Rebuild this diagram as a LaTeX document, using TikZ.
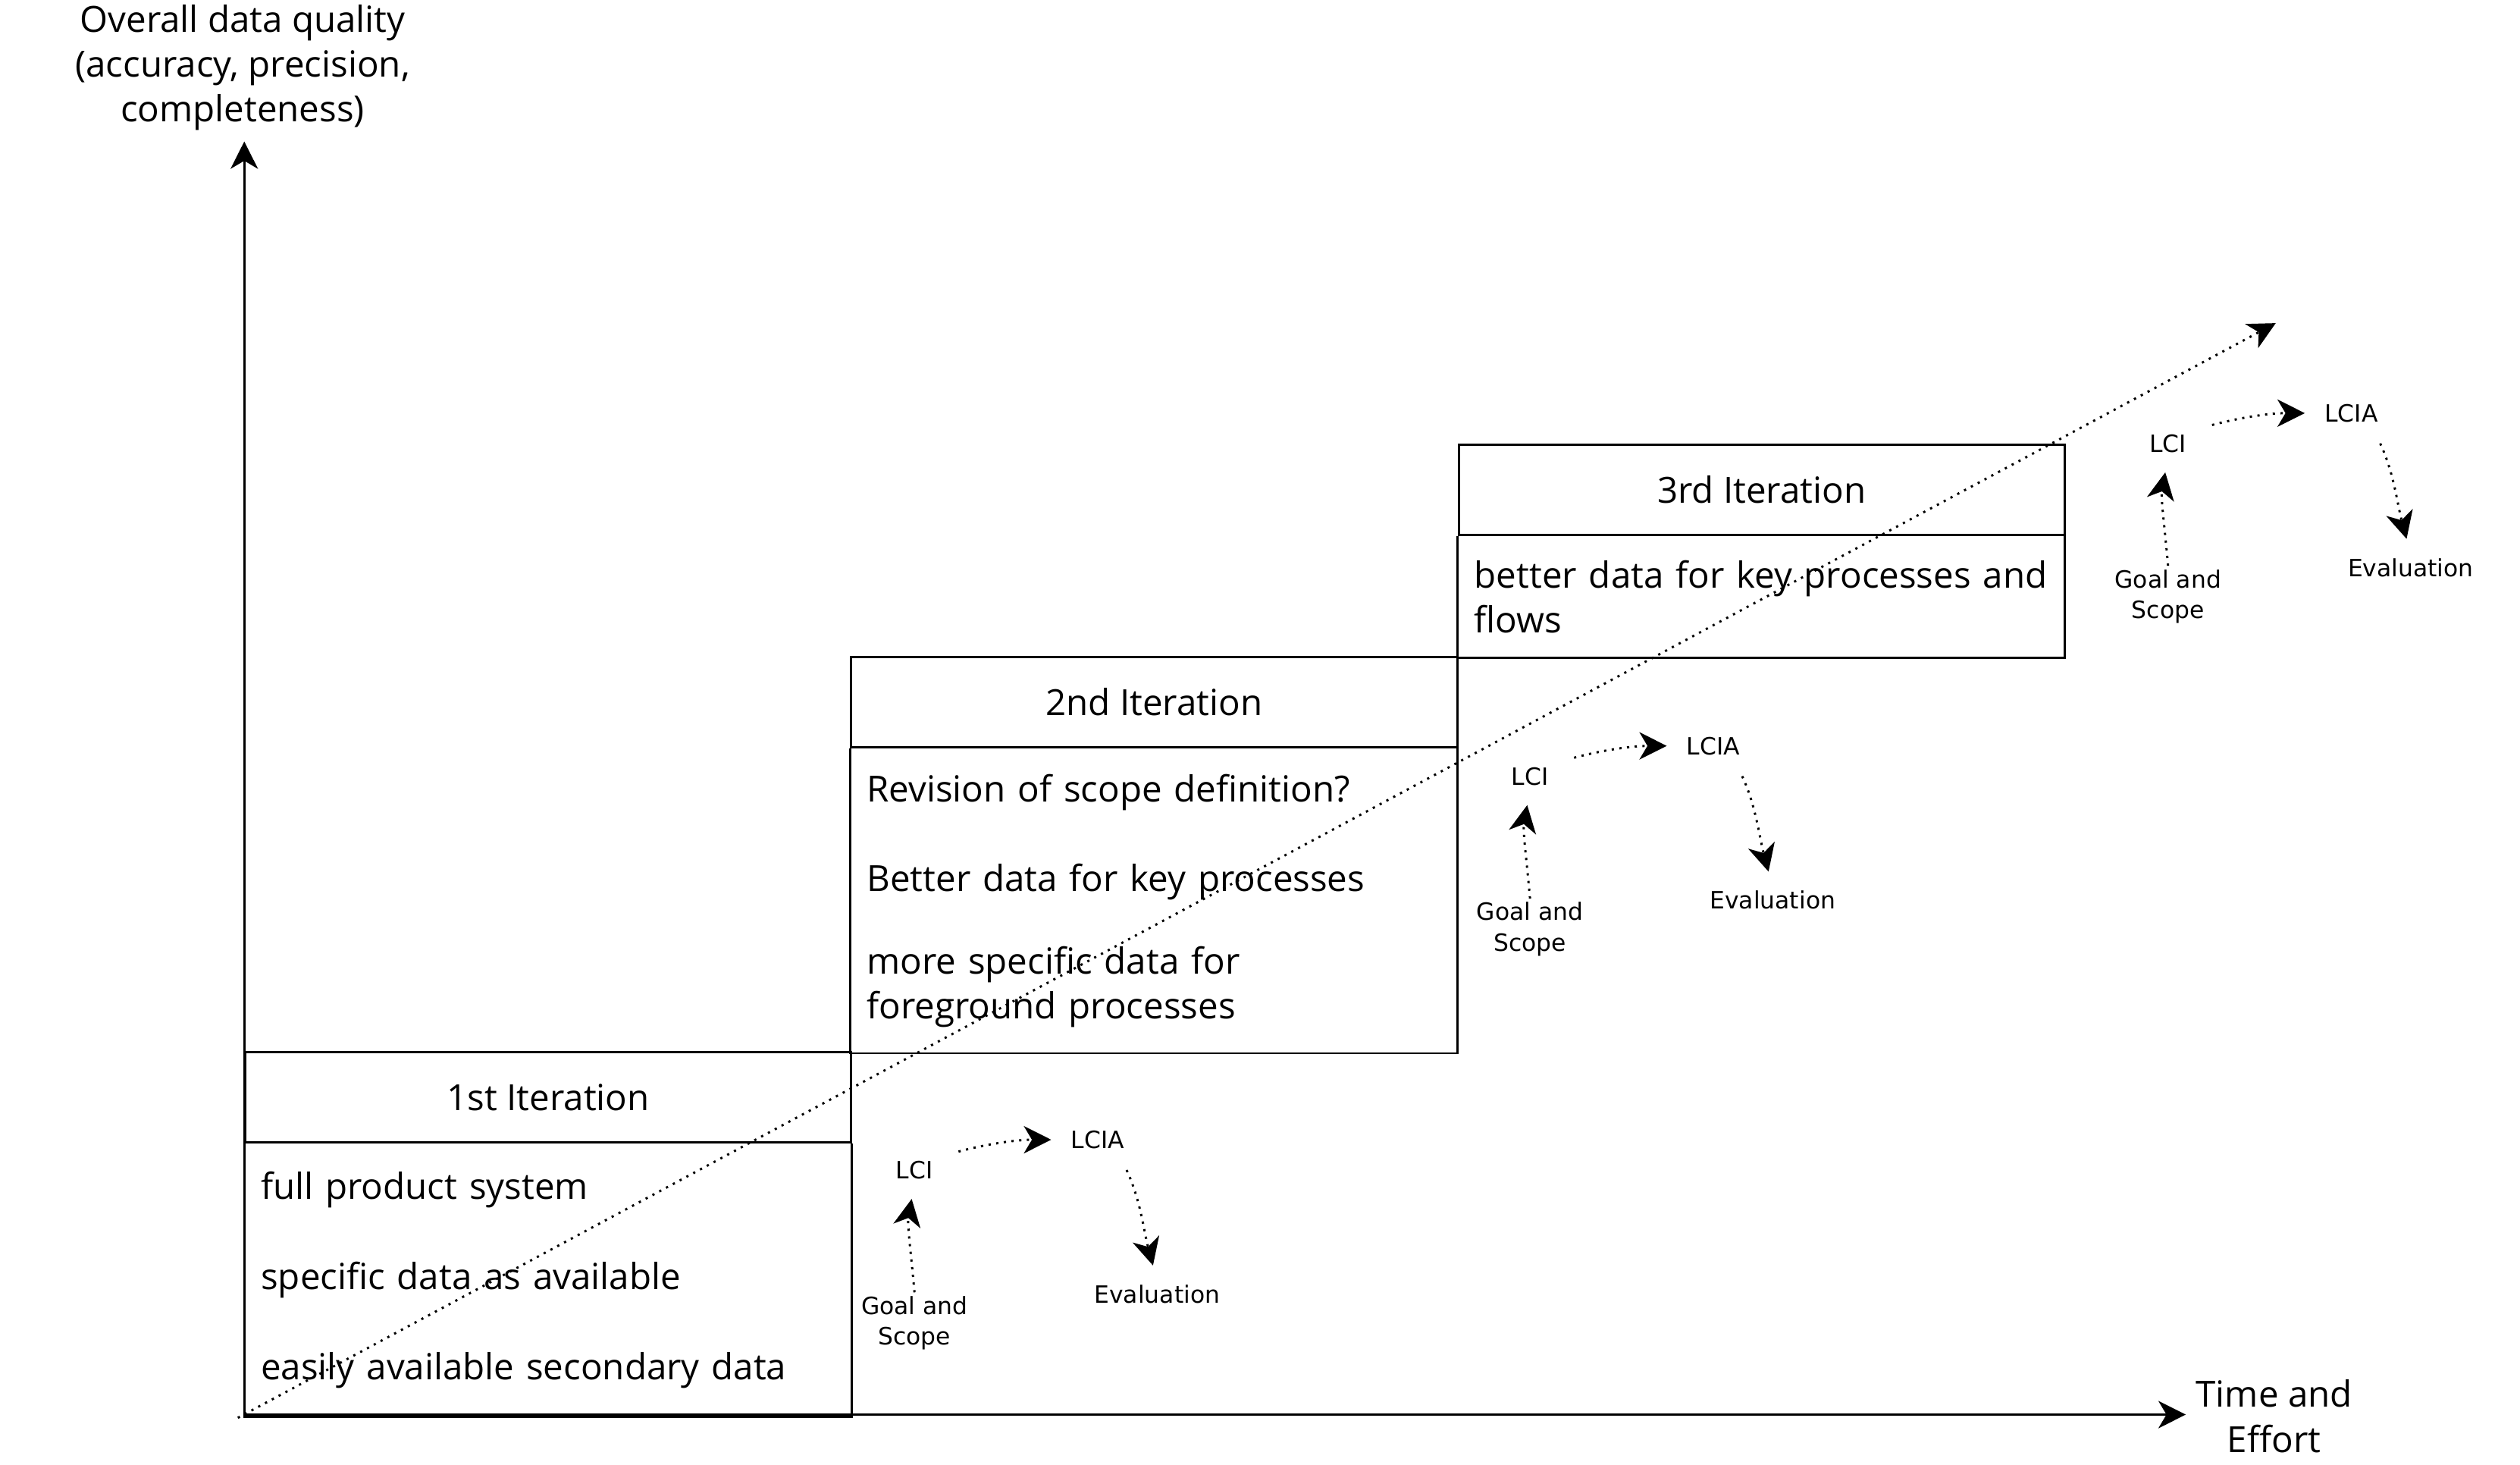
\documentclass[tikz,border=0pt]{standalone}
\usepackage{fontspec}
\setmainfont{Open Sans}
\newfontfamily\stepfont{DejaVu Sans}
\usetikzlibrary{arrows.meta}

\tikzset{
	tip/.style={-{Stealth[length=8.5pt, width=8.5pt, inset=2.5pt]}},
	axis/.style={line width=0.7pt, tip},
	trend/.style={line width=0.7pt, dash pattern=on 0.7pt off 1.7pt, tip},
	cyc/.style={line width=0.7pt, dash pattern=on 0.7pt off 1.7pt, tip},
	boxline/.style={line width=0.7pt},
	head/.style={draw, line width=0.7pt, minimum width=188.5pt, minimum height=28pt, anchor=north west, font=\fontsize{11.2}{14}\selectfont},
	body/.style={text width=178.5pt, inner xsep=5pt, inner ysep=0pt, align=left, anchor=north west, font=\fontsize{11.2}{14}\selectfont},
	steplabel/.style={font=\stepfont\fontsize{7.4}{9.5}\selectfont, align=center, inner sep=1pt},
	axislabel/.style={font=\fontsize{11.2}{14}\selectfont, align=center},
}

\begin{document}
\begin{tikzpicture}[x=0.5pt, y=0.5pt]
	\useasboundingbox (0,0) rectangle (1568,-911);

	% axes
	\coordinate (o) at (152,-880);
	\coordinate (ytop) at (152,-88);
	\coordinate (xend) at (1360,-880);
	\node[axislabel] (ylabel) at (151,-42) {Overall data quality\\(accuracy, precision,\\completeness)};
	\node[axislabel] (xlabel) at (1415,-881) {Time and\\Effort};

	% iterations
	\node[head] (head1) at (152,-654) {1st Iteration};
	\node[body, minimum height=84.5pt] (body1) at (head1.south west) {full product system\\[14pt]specific data as available\\[14pt]easily available secondary data};
	\draw[boxline] (body1.north west) |- (body1.south east) -- (body1.north east);

	\node[head] (head2) at (529,-408) {2nd Iteration};
	\node[body, minimum height=94.5pt] (body2) at (head2.south west) {Revision of scope definition?\\[14pt]Better data for key processes\\[11.5pt]more specific data for\\foreground processes};
	\draw[boxline] (body2.north west) |- (body2.south east) -- (body2.north east);

	\node[head] (head3) at (907,-276) {3rd Iteration};
	\node[body, minimum height=37.5pt] (body3) at (head3.south west) {better data for key processes and\\flows};
	\draw[boxline] (body3.north west) |- (body3.south east) -- (body3.north east);

	\draw[axis] (o) -- (ytop);
	\draw[axis] (o) -- (xend);

	% overall trend
	\coordinate (trendstart) at (148,-882);
	\coordinate (trendend) at (1416,-201);
	\draw[trend] (trendstart) -- (trendend);

	% LCA phases after each iteration
	\foreach \i/\dx/\dy in {1/0/0, 2/383/245, 3/780/452}{
		\begin{scope}[shift={(\dx,\dy)}]
			\node[steplabel] (lci\i)  at (569,-728) {LCI};
			\node[steplabel] (lcia\i) at (683,-709) {LCIA};
			\node[steplabel] (eval\i) at (720,-805) {Evaluation};
			\node[steplabel] (gs\i)   at (569,-823) {Goal and\\Scope};
			\draw[cyc, shorten >=5pt] (gs\i.north) to[out=95, in=-100] (lci\i.south);
			\draw[cyc, shorten <=7pt, shorten >=5pt] (lci\i.north east) to[out=15, in=180] (lcia\i.west);
			\draw[cyc, shorten <=6pt, shorten >=5pt] ([xshift=-3pt]lcia\i.south east) to[out=-65, in=105] (eval\i.north);
		\end{scope}
	}
\end{tikzpicture}
\end{document}
